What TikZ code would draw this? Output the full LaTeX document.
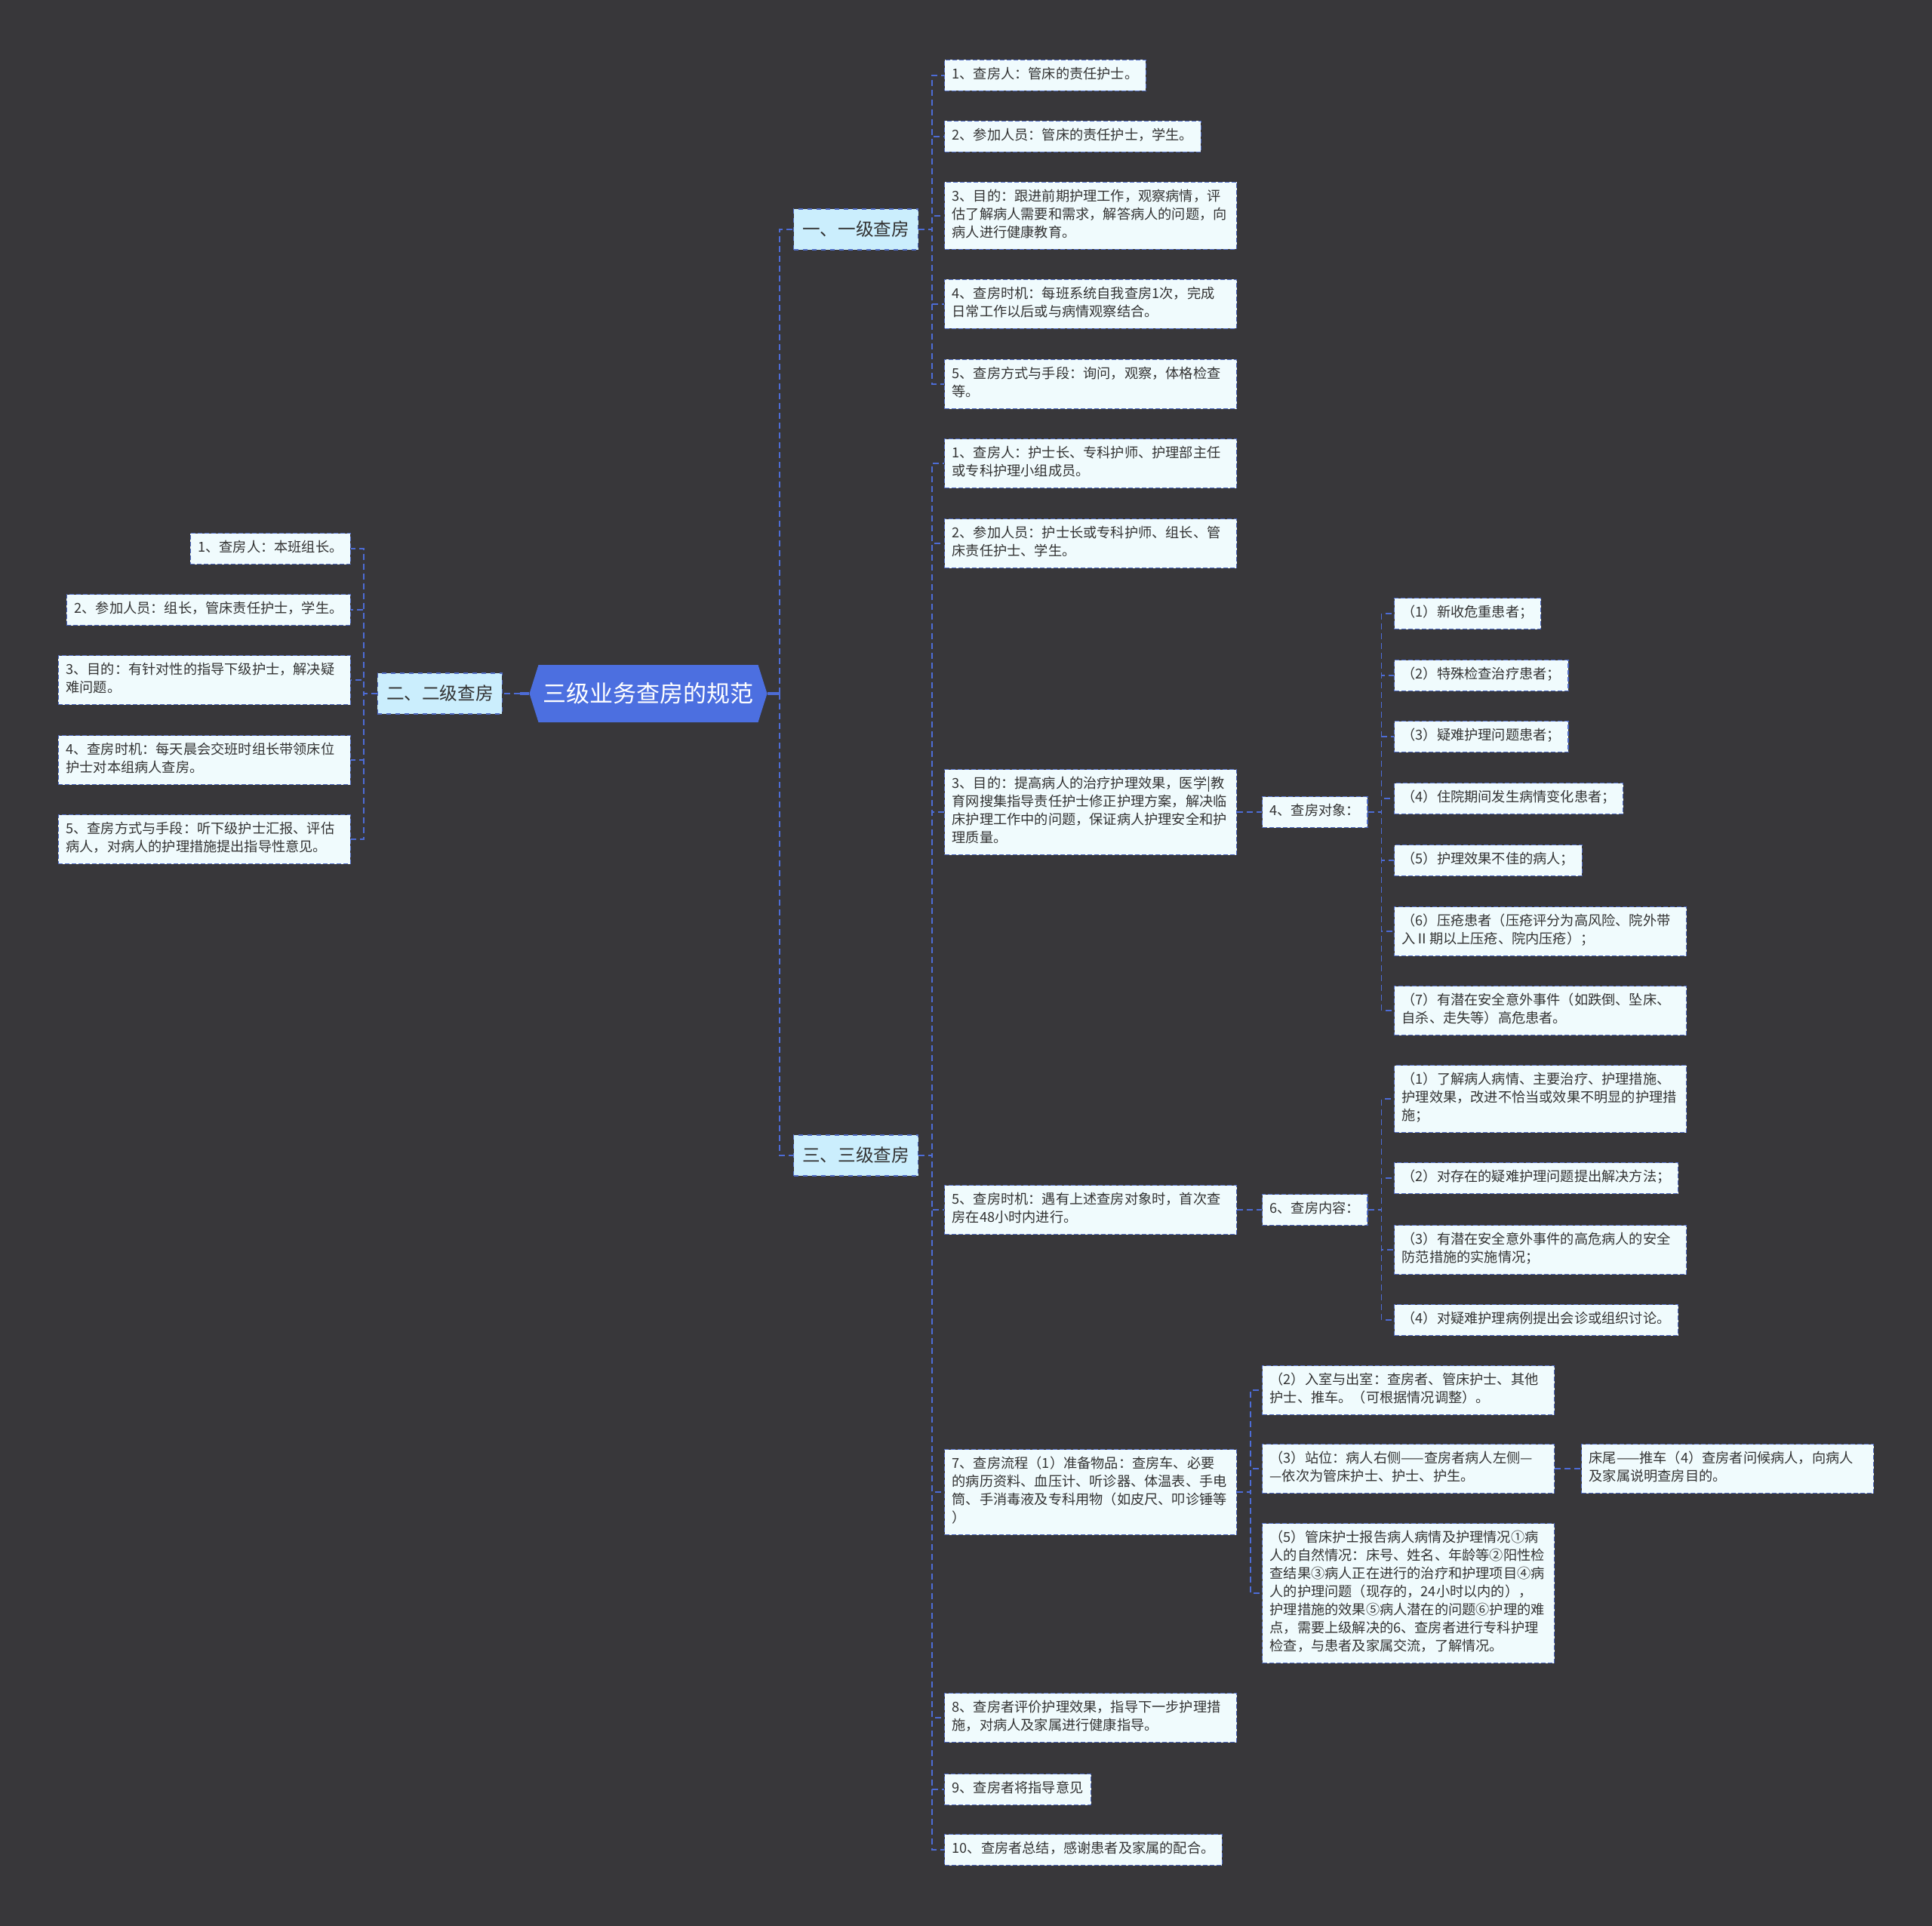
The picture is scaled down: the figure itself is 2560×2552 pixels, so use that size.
\documentclass[tikz,border=0pt]{standalone}
\usepackage{fontspec}
\setmainfont{Noto Sans CJK SC}
\usetikzlibrary{shapes.symbols, positioning}
\definecolor{bgcol}{HTML}{38373A}
\definecolor{rootblue}{HTML}{4C6FE0}
\definecolor{topicfill}{HTML}{CBEEFD}
\definecolor{leaffill}{HTML}{F0FBFD}
\definecolor{edgeblue}{HTML}{4F6BC4}
\definecolor{linkblue}{HTML}{4D6CD6}
\definecolor{inkgray}{HTML}{333333}

\begin{document}
\begin{tikzpicture}[x=0.5pt, y=-0.5pt,
  root/.style={signal, signal to=east and west, signal pointer angle=145, fill=rootblue, text=white,
    font=\fontsize{15.5}{18}\selectfont, minimum width=157.5pt, minimum height=38pt, inner xsep=2pt},
  topic/.style={rectangle, draw=edgeblue, dashed, line width=0.6pt, fill=topicfill, text=inkgray,
    font=\fontsize{11.8}{14}\selectfont, minimum width=82.5pt, minimum height=27pt, inner xsep=0pt},
  leaf/.style={rectangle, draw=edgeblue, dash pattern=on 3pt off 1.5pt, line width=0.6pt, fill=leaffill,
    text=inkgray, font=\fontsize{9.1}{12}\selectfont, align=left, inner xsep=5pt, inner ysep=4.25pt,
    execute at begin node=\strut, execute at end node=\strut},
  wide/.style={leaf, text width=183.5pt},
  link/.style={draw=linkblue, line width=0.75pt, dash pattern=on 4pt off 2.5pt},
  stem/.style={draw=linkblue, line width=1.6pt}
]
  \fill[bgcol] (0,0) rectangle (2560,2552);

  % centre and main branches
  \node[root] (root) at (859,919) {三级业务查房的规范};
  \node[topic, anchor=east] (g2) at (666,919) {二、二级查房};
  \node[topic, anchor=west] (g1) at (1051,304) {一、一级查房};
  \node[topic, anchor=west] (g3) at (1051,1531) {三、三级查房};

  \coordinate (trunk) at (1033,919);
  \draw[stem] (root.east) -- (trunk);
  \draw[link] (trunk) |- (g1.west);
  \draw[link] (trunk) |- (g3.west);
  \draw[stem] (root.west) -- ++(-12,0) coordinate (lstem);
  \draw[link] (lstem) -- (g2.east);

  % 一级查房
  \node[leaf, anchor=west] (a1) at (1251,100) {1、查房人：管床的责任护士。};
  \node[leaf, anchor=west] (a2) at (1251,181) {2、参加人员：管床的责任护士，学生。};
  \node[wide, anchor=west] (a3) at (1251,286) {3、目的：跟进前期护理工作，观察病情，评\\估了解病人需要和需求，解答病人的问题，向\\病人进行健康教育。};
  \node[wide, anchor=west] (a4) at (1251,403) {4、查房时机：每班系统自我查房1次，完成\\日常工作以后或与病情观察结合。};
  \node[wide, anchor=west] (a5) at (1251,509) {5、查房方式与手段：询问，观察，体格检查\\等。};
  \foreach \c in {a1,a2,a3,a4,a5}
    \draw[link] (g1.east) -- ++(18,0) |- (\c.west);

  % 二级查房
  \node[leaf, anchor=east] (b1) at (465,727) {1、查房人：本班组长。};
  \node[leaf, anchor=east] (b2) at (465,808) {2、参加人员：组长，管床责任护士，学生。};
  \node[wide, anchor=east] (b3) at (465,901) {3、目的：有针对性的指导下级护士，解决疑\\难问题。};
  \node[wide, anchor=east] (b4) at (465,1007) {4、查房时机：每天晨会交班时组长带领床位\\护士对本组病人查房。};
  \node[wide, anchor=east] (b5) at (465,1112) {5、查房方式与手段：听下级护士汇报、评估\\病人，对病人的护理措施提出指导性意见。};
  \foreach \c in {b1,b2,b3,b4,b5}
    \draw[link] (g2.west) -- ++(-18,0) |- (\c.east);

  % 三级查房
  \node[wide, anchor=west] (c1) at (1251,614) {1、查房人：护士长、专科护师、护理部主任\\或专科护理小组成员。};
  \node[wide, anchor=west] (c2) at (1251,720) {2、参加人员：护士长或专科护师、组长、管\\床责任护士、学生。};
  \node[wide, anchor=west] (c3) at (1251,1076) {3、目的：提高病人的治疗护理效果，医学|教\\育网搜集指导责任护士修正护理方案，解决临\\床护理工作中的问题，保证病人护理安全和护\\理质量。};
  \node[wide, anchor=west] (c5) at (1251,1603) {5、查房时机：遇有上述查房对象时，首次查\\房在48小时内进行。};
  \node[wide, anchor=west] (c7) at (1251,1977) {7、查房流程（1）准备物品：查房车、必要\\的病历资料、血压计、听诊器、体温表、手电\\筒、手消毒液及专科用物（如皮尺、叩诊锤等\\）};
  \node[wide, anchor=west] (c8) at (1251,2276) {8、查房者评价护理效果，指导下一步护理措\\施，对病人及家属进行健康指导。};
  \node[leaf, anchor=west] (c9) at (1251,2371) {9、查房者将指导意见};
  \node[leaf, anchor=west] (c10) at (1251,2451) {10、查房者总结，感谢患者及家属的配合。};
  \foreach \c in {c1,c2,c3,c5,c7,c8,c9,c10}
    \draw[link] (g3.east) -- ++(18,0) |- (\c.west);

  % 查房对象
  \node[leaf, anchor=west] (c4) at (1672,1076) {4、查房对象：};
  \draw[link] (c3.east) -- (c4.west);
  \node[leaf, anchor=west] (d1) at (1847,813) {（1）新收危重患者；};
  \node[leaf, anchor=west] (d2) at (1847,895) {（2）特殊检查治疗患者；};
  \node[leaf, anchor=west] (d3) at (1847,976) {（3）疑难护理问题患者；};
  \node[leaf, anchor=west] (d4) at (1847,1058) {（4）住院期间发生病情变化患者；};
  \node[leaf, anchor=west] (d5) at (1847,1140) {（5）护理效果不佳的病人；};
  \node[wide, anchor=west] (d6) at (1847,1234) {（6）压疮患者（压疮评分为高风险、院外带\\入Ⅱ期以上压疮、院内压疮）；};
  \node[wide, anchor=west] (d7) at (1847,1339) {（7）有潜在安全意外事件（如跌倒、坠床、\\自杀、走失等）高危患者。};
  \foreach \c in {d1,d2,d3,d4,d5,d6,d7}
    \draw[link] (c4.east) -- ++(18,0) |- (\c.west);

  % 查房内容
  \node[leaf, anchor=west] (c6) at (1672,1603) {6、查房内容：};
  \draw[link] (c5.east) -- (c6.west);
  \node[wide, anchor=west] (e1) at (1847,1456) {（1）了解病人病情、主要治疗、护理措施、\\护理效果，改进不恰当或效果不明显的护理措\\施；};
  \node[leaf, anchor=west] (e2) at (1847,1561) {（2）对存在的疑难护理问题提出解决方法；};
  \node[wide, anchor=west] (e3) at (1847,1656) {（3）有潜在安全意外事件的高危病人的安全\\防范措施的实施情况；};
  \node[leaf, anchor=west] (e4) at (1847,1749) {（4）对疑难护理病例提出会诊或组织讨论。};
  \foreach \c in {e1,e2,e3,e4}
    \draw[link] (c6.east) -- ++(18,0) |- (\c.west);

  % 查房流程
  \node[wide, anchor=west] (f2) at (1672,1842) {（2）入室与出室：查房者、管床护士、其他\\护士、推车。（可根据情况调整）。};
  \node[wide, anchor=west] (f3) at (1672,1946) {（3）站位：病人右侧——查房者病人左侧—\\—依次为管床护士、护士、护生。};
  \node[wide, anchor=west] (f5) at (1672,2111) {（5）管床护士报告病人病情及护理情况①病\\人的自然情况：床号、姓名、年龄等②阳性检\\查结果③病人正在进行的治疗和护理项目④病\\人的护理问题（现存的，24小时以内的），\\护理措施的效果⑤病人潜在的问题⑥护理的难\\点，需要上级解决的6、查房者进行专科护理\\检查，与患者及家属交流，了解情况。};
  \foreach \c in {f2,f3,f5}
    \draw[link] (c7.east) -- ++(18,0) |- (\c.west);
  \node[wide, anchor=west] (f4) at (2095,1946) {床尾——推车（4）查房者问候病人，向病人\\及家属说明查房目的。};
  \draw[link] (f3.east) -- (f4.west);
\end{tikzpicture}
\end{document}
